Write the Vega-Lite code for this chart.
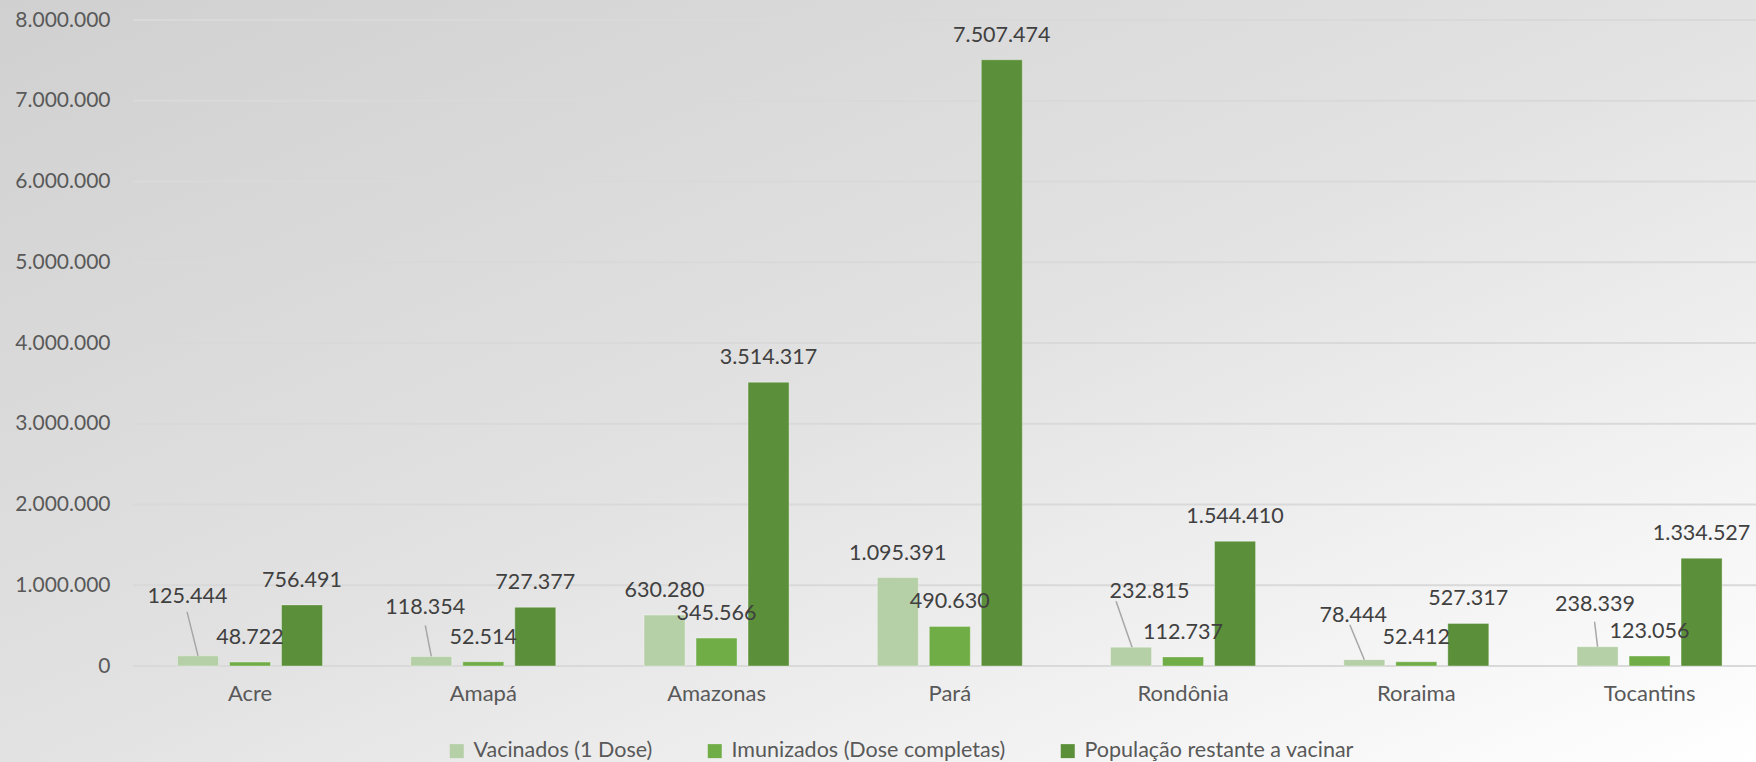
{
  "$schema": "https://vega.github.io/schema/vega-lite/v6.json",
  "width": 1756,
  "height": 762,
  "autosize": {"type": "none"},
  "padding": 0,
  "background": "#dedede",
  "view": {
    "stroke": null,
    "fill": {
      "gradient": "linear",
      "x1": 0, "y1": 0, "x2": 1, "y2": 1,
      "stops": [
        {"offset": 0, "color": "#d0d0d0"},
        {"offset": 0.5, "color": "#e2e2e2"},
        {"offset": 1, "color": "#ffffff"}
      ]
    }
  },
  "config": {
    "font": "Lato",
    "locale": {"number": {"decimal": ",", "thousands": ".", "grouping": [3], "currency": ["", ""]}}
  },
  "datasets": {
    "main": [
      {"estado": "Acre", "serie": "Vacinados (1 Dose)", "valor": 125444},
      {"estado": "Acre", "serie": "Imunizados (Dose completas)", "valor": 48722},
      {"estado": "Acre", "serie": "População restante a vacinar", "valor": 756491},
      {"estado": "Amapá", "serie": "Vacinados (1 Dose)", "valor": 118354},
      {"estado": "Amapá", "serie": "Imunizados (Dose completas)", "valor": 52514},
      {"estado": "Amapá", "serie": "População restante a vacinar", "valor": 727377},
      {"estado": "Amazonas", "serie": "Vacinados (1 Dose)", "valor": 630280},
      {"estado": "Amazonas", "serie": "Imunizados (Dose completas)", "valor": 345566},
      {"estado": "Amazonas", "serie": "População restante a vacinar", "valor": 3514317},
      {"estado": "Pará", "serie": "Vacinados (1 Dose)", "valor": 1095391},
      {"estado": "Pará", "serie": "Imunizados (Dose completas)", "valor": 490630},
      {"estado": "Pará", "serie": "População restante a vacinar", "valor": 7507474},
      {"estado": "Rondônia", "serie": "Vacinados (1 Dose)", "valor": 232815},
      {"estado": "Rondônia", "serie": "Imunizados (Dose completas)", "valor": 112737},
      {"estado": "Rondônia", "serie": "População restante a vacinar", "valor": 1544410},
      {"estado": "Roraima", "serie": "Vacinados (1 Dose)", "valor": 78444},
      {"estado": "Roraima", "serie": "Imunizados (Dose completas)", "valor": 52412},
      {"estado": "Roraima", "serie": "População restante a vacinar", "valor": 527317},
      {"estado": "Tocantins", "serie": "Vacinados (1 Dose)", "valor": 238339},
      {"estado": "Tocantins", "serie": "Imunizados (Dose completas)", "valor": 123056},
      {"estado": "Tocantins", "serie": "População restante a vacinar", "valor": 1334527}
    ],
    "grid": [
      {"valor": 0}, {"valor": 1000000}, {"valor": 2000000}, {"valor": 3000000}, {"valor": 4000000},
      {"valor": 5000000}, {"valor": 6000000}, {"valor": 7000000}, {"valor": 8000000}
    ]
  },
  "data": {"name": "main"},
  "encoding": {
    "x": {
      "field": "estado",
      "type": "nominal",
      "sort": null,
      "scale": {
        "domain": ["Acre", "Amapá", "Amazonas", "Pará", "Rondônia", "Roraima", "Tocantins"],
        "range": [133.4, 1766.2],
        "paddingInner": 0,
        "paddingOuter": 0
      },
      "axis": {
        "orient": "bottom",
        "offset": -96,
        "title": null,
        "domain": false,
        "ticks": false,
        "labelAngle": 0,
        "labelPadding": 17,
        "labelFont": "Lato",
        "labelFontSize": 22,
        "labelColor": "#595959"
      }
    },
    "y": {
      "field": "valor",
      "type": "quantitative",
      "scale": {"domain": [-1188854, 8247678], "nice": false, "zero": false},
      "axis": {
        "orient": "left",
        "offset": -110,
        "values": [0, 1000000, 2000000, 3000000, 4000000, 5000000, 6000000, 7000000, 8000000],
        "format": ",d",
        "title": null,
        "domain": false,
        "ticks": false,
        "grid": false,
        "labelPadding": 0,
        "labelOverlap": false,
        "labelFont": "Lato",
        "labelFontSize": 21,
        "labelColor": "#595959"
      }
    }
  },
  "layer": [
    {
      "data": {"name": "grid"},
      "mark": {"type": "rule", "color": "#d9d9d9", "strokeWidth": 2, "xOffset": -117, "x2Offset": 120},
      "encoding": {
        "x": {"datum": "Acre", "type": "nominal"},
        "x2": {"datum": "Tocantins"}
      }
    },
    {
      "mark": {"type": "bar", "stroke": "#ffffff", "strokeOpacity": 0.35, "strokeWidth": 1},
      "encoding": {
        "xOffset": {
          "field": "serie",
          "type": "nominal",
          "scale": {
            "domain": ["Vacinados (1 Dose)", "Imunizados (Dose completas)", "População restante a vacinar"],
            "paddingInner": 0.2115,
            "paddingOuter": 0.8486
          }
        },
        "y2": {"datum": 0},
        "color": {
          "field": "serie",
          "type": "nominal",
          "scale": {
            "domain": ["Vacinados (1 Dose)", "Imunizados (Dose completas)", "População restante a vacinar"],
            "range": ["#b5cfa6", "#70ad47", "#5b8f39"]
          },
          "legend": {
            "orient": "none",
            "legendX": 446,
            "legendY": 740,
            "direction": "horizontal",
            "title": null,
            "symbolType": "square",
            "symbolSize": 196,
            "symbolStrokeWidth": 0,
            "symbolOpacity": 1,
            "labelFont": "Lato",
            "labelFontSize": 21.5,
            "labelColor": "#595959",
            "labelOffset": 6,
            "labelLimit": 0,
            "columnPadding": 51,
            "padding": 0
          }
        }
      }
    },
    {
      "transform": [{"filter": "!(datum.serie == 'Vacinados (1 Dose)' && indexof(['Acre','Amapá','Rondônia','Roraima','Tocantins'], datum.estado) >= 0)"}],
      "mark": {"type": "text", "fontSize": 21.5, "font": "Lato", "color": "#404040", "baseline": "alphabetic", "dy": -18},
      "encoding": {
        "xOffset": {"field": "serie", "type": "nominal"},
        "text": {"field": "valor", "type": "quantitative", "format": ",d"}
      }
    },
    {
      "transform": [{"filter": "datum.serie == 'Vacinados (1 Dose)' && datum.estado == 'Acre'"}],
      "mark": {"type": "text", "fontSize": 21.5, "font": "Lato", "color": "#404040", "baseline": "alphabetic", "dx": -62.5, "dy": -52.5},
      "encoding": {"text": {"field": "valor", "type": "quantitative", "format": ",d"}}
    },
    {
      "transform": [{"filter": "datum.serie == 'Vacinados (1 Dose)' && datum.estado == 'Amapá'"}],
      "mark": {"type": "text", "fontSize": 21.5, "font": "Lato", "color": "#404040", "baseline": "alphabetic", "dx": -58, "dy": -42},
      "encoding": {"text": {"field": "valor", "type": "quantitative", "format": ",d"}}
    },
    {
      "transform": [{"filter": "datum.serie == 'Vacinados (1 Dose)' && datum.estado == 'Rondônia'"}],
      "mark": {"type": "text", "fontSize": 21.5, "font": "Lato", "color": "#404040", "baseline": "alphabetic", "dx": -33.5, "dy": -49.5},
      "encoding": {"text": {"field": "valor", "type": "quantitative", "format": ",d"}}
    },
    {
      "transform": [{"filter": "datum.serie == 'Vacinados (1 Dose)' && datum.estado == 'Roraima'"}],
      "mark": {"type": "text", "fontSize": 21.5, "font": "Lato", "color": "#404040", "baseline": "alphabetic", "dx": -63, "dy": -38},
      "encoding": {"text": {"field": "valor", "type": "quantitative", "format": ",d"}}
    },
    {
      "transform": [{"filter": "datum.serie == 'Vacinados (1 Dose)' && datum.estado == 'Tocantins'"}],
      "mark": {"type": "text", "fontSize": 21.5, "font": "Lato", "color": "#404040", "baseline": "alphabetic", "dx": -54.5, "dy": -35.5},
      "encoding": {"text": {"field": "valor", "type": "quantitative", "format": ",d"}}
    },
    {
      "transform": [{"filter": "datum.serie == 'Vacinados (1 Dose)' && datum.estado == 'Acre'"}],
      "mark": {"type": "rule", "color": "#a6a6a6", "strokeWidth": 1.5, "xOffset": -52, "x2Offset": -63, "y2Offset": -44},
      "encoding": {"x2": {"field": "estado"}, "y2": {"field": "valor"}}
    },
    {
      "transform": [{"filter": "datum.serie == 'Vacinados (1 Dose)' && datum.estado == 'Amapá'"}],
      "mark": {"type": "rule", "color": "#a6a6a6", "strokeWidth": 1.5, "xOffset": -52, "x2Offset": -58, "y2Offset": -31},
      "encoding": {"x2": {"field": "estado"}, "y2": {"field": "valor"}}
    },
    {
      "transform": [{"filter": "datum.serie == 'Vacinados (1 Dose)' && datum.estado == 'Rondônia'"}],
      "mark": {"type": "rule", "color": "#a6a6a6", "strokeWidth": 1.5, "xOffset": -51, "x2Offset": -67, "y2Offset": -46},
      "encoding": {"x2": {"field": "estado"}, "y2": {"field": "valor"}}
    },
    {
      "transform": [{"filter": "datum.serie == 'Vacinados (1 Dose)' && datum.estado == 'Roraima'"}],
      "mark": {"type": "rule", "color": "#a6a6a6", "strokeWidth": 1.5, "xOffset": -52, "x2Offset": -66.5, "y2Offset": -35},
      "encoding": {"x2": {"field": "estado"}, "y2": {"field": "valor"}}
    },
    {
      "transform": [{"filter": "datum.serie == 'Vacinados (1 Dose)' && datum.estado == 'Tocantins'"}],
      "mark": {"type": "rule", "color": "#a6a6a6", "strokeWidth": 1.5, "xOffset": -52, "x2Offset": -55, "y2Offset": -25},
      "encoding": {"x2": {"field": "estado"}, "y2": {"field": "valor"}}
    }
  ]
}
